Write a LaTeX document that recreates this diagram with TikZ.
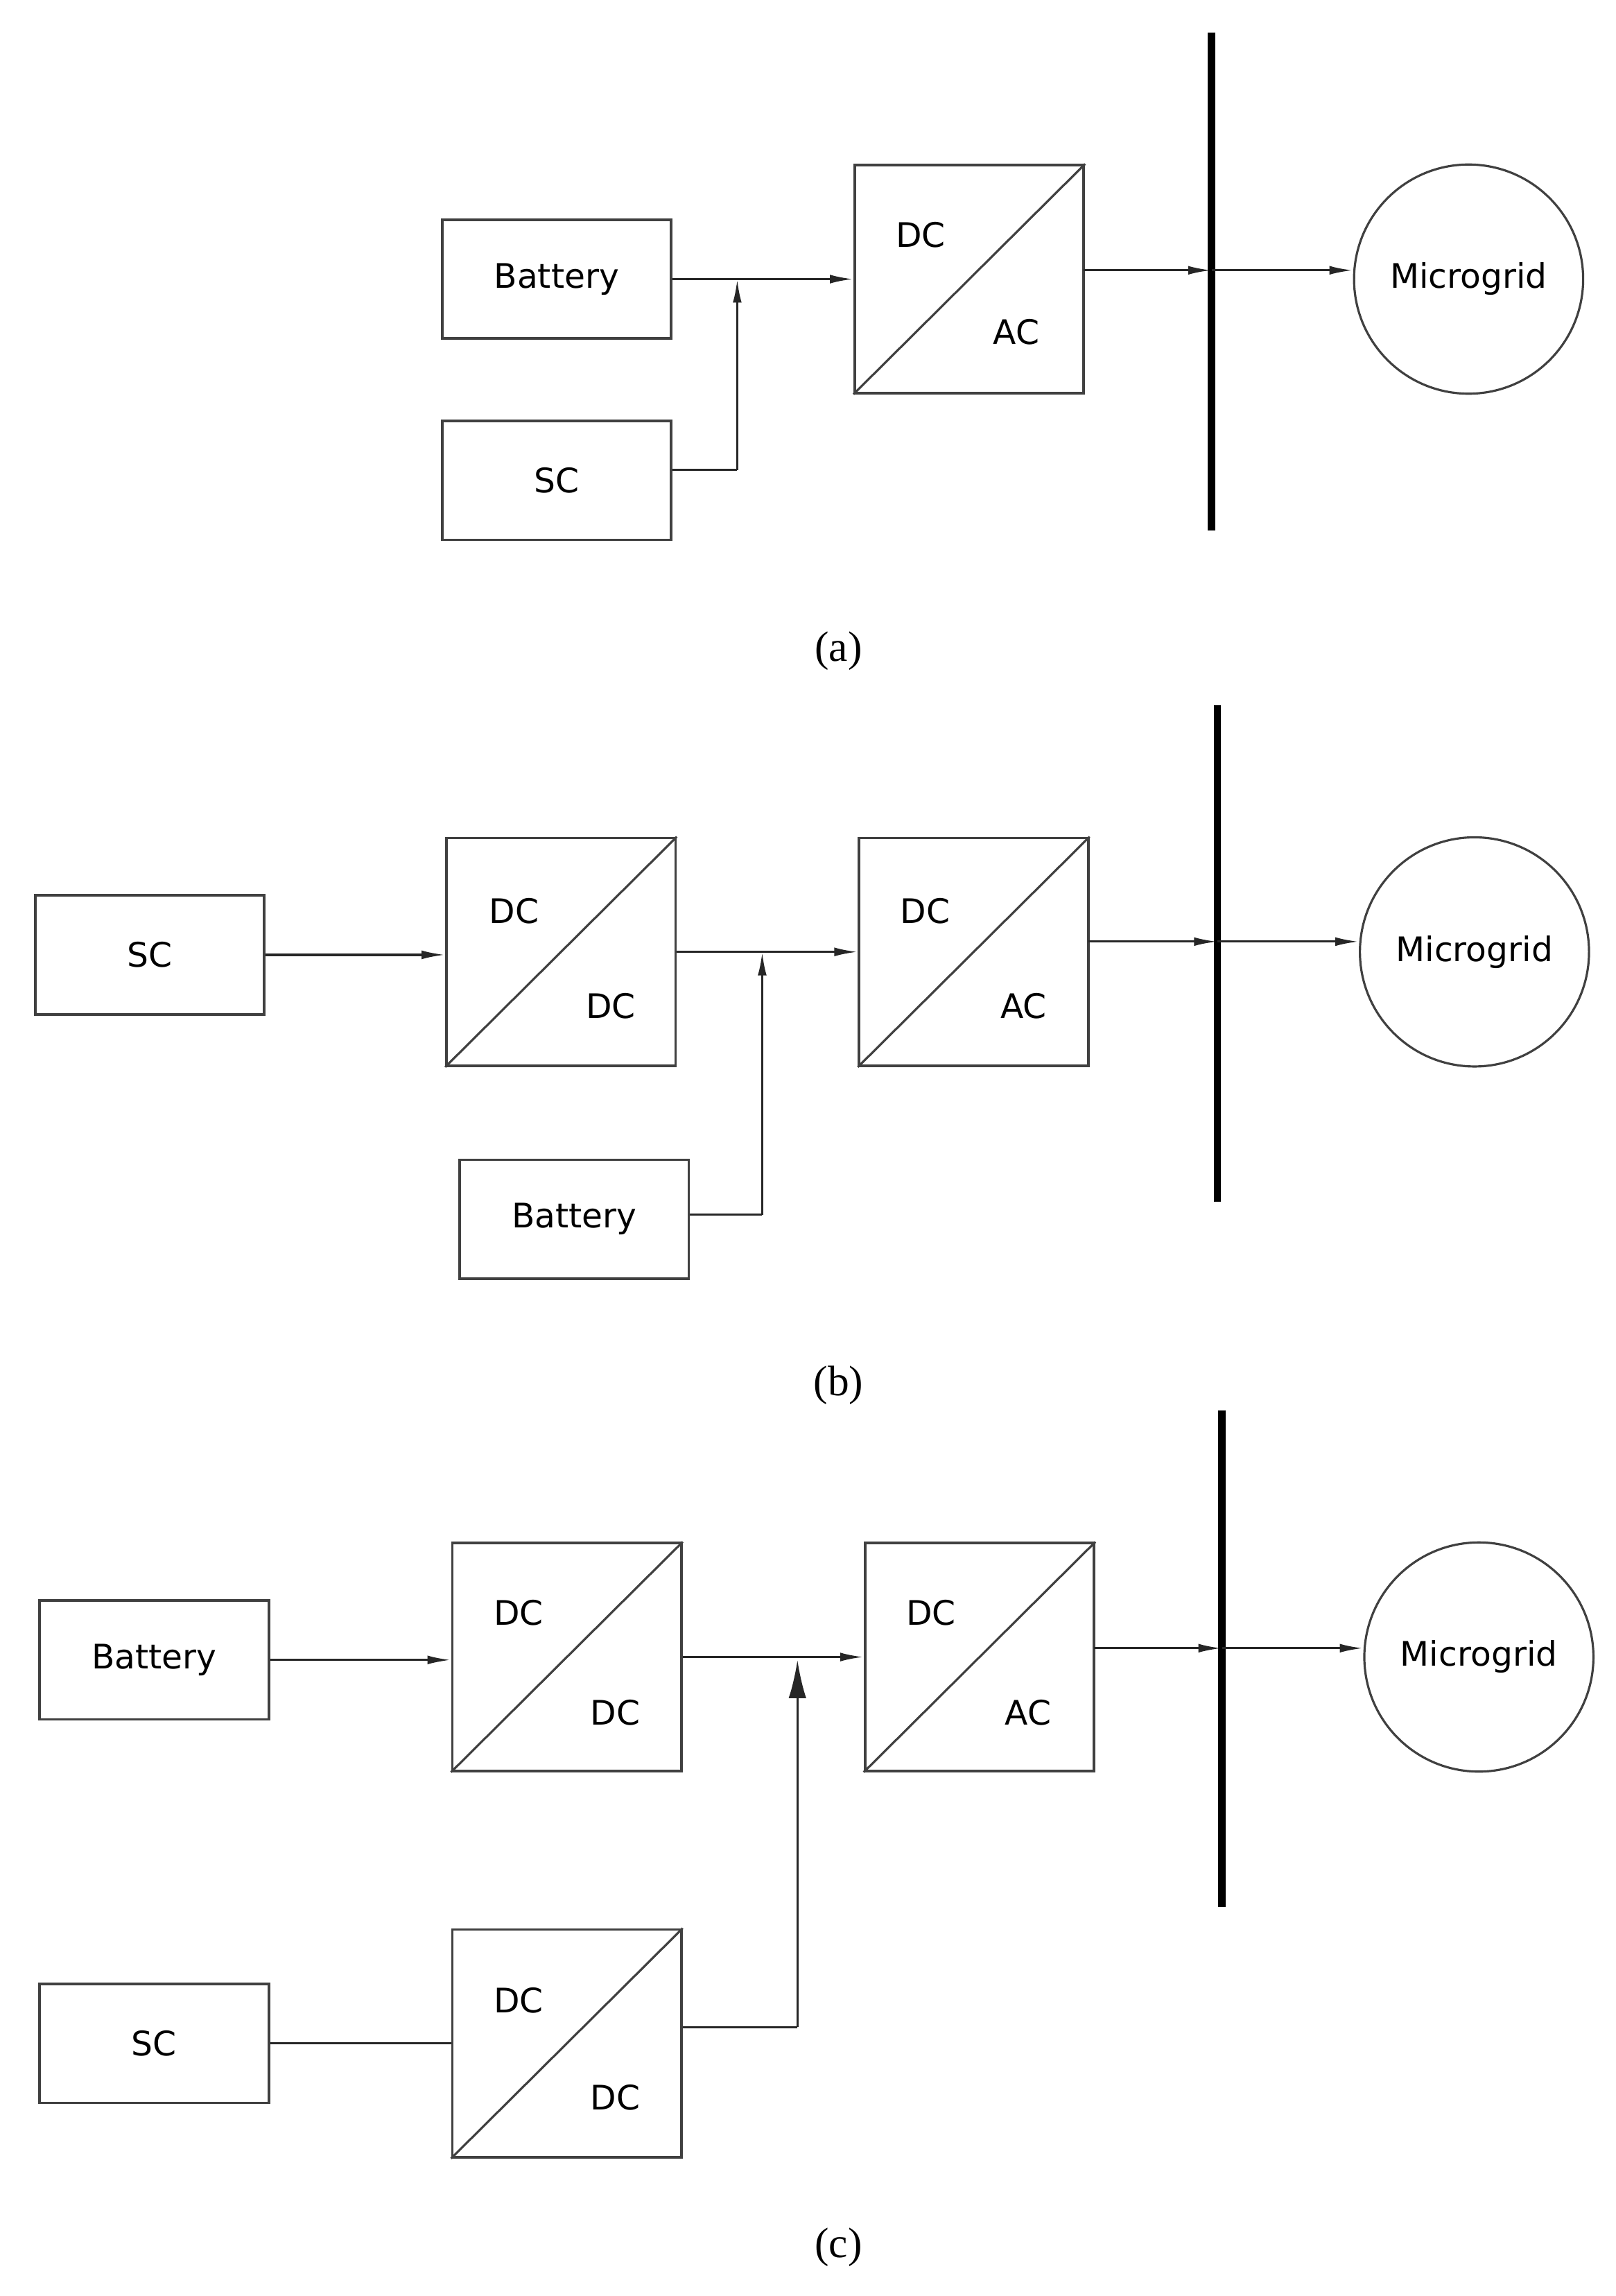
\documentclass[tikz,border=0pt]{standalone}
\usepackage{fontspec}
\setmainfont{DejaVu Sans}
\newfontfamily\capfont{Liberation Serif}
\usetikzlibrary{arrows.meta}
\begin{document}
\begin{tikzpicture}[x=1pt,y=-1pt,
  box/.style={draw=black!75,line width=1.8pt,minimum width=156pt,minimum height=81pt,inner sep=0pt,font=\fontsize{23}{27}\selectfont},
  conv/.style={draw=black!75,line width=1.8pt,minimum width=156pt,minimum height=155pt,inner sep=0pt},
  ct/.style={font=\fontsize{23}{27}\selectfont,inner sep=0pt},
  mg/.style={draw=black!75,line width=1.5pt,circle,minimum size=156pt,inner sep=0pt,font=\fontsize{23}{27}\selectfont},
  bus/.style={line width=5pt},
  ln/.style={line width=1.5pt,black!85},
  arr/.style={ln,-{Latex[length=16pt,width=6pt]}},
  captxt/.style={font=\capfont\fontsize{29}{33}\selectfont}]
\useasboundingbox (0,0) rectangle (1100,1563);
% (a)
\node[box] (bat1) at (379,190) {Battery};
\node[box] (sc1) at (379,327) {SC};
\node[conv] (ca1) at (660,190) {};
\draw[draw=black!75,line width=1.5pt] (ca1.south west) -- (ca1.north east);
\node[ct] (ca1t) at (627,160) {DC};
\node[ct] (ca1b) at (692,226) {AC};
\coordinate (bus1t) at (825,22); \coordinate (bus1b) at (825,361);
\draw[bus] (bus1t) -- (bus1b);
\node[mg] (mg1) at (1000,190) {Microgrid};
\coordinate (j1) at (502,190); \coordinate (s1) at (502,320);
\draw[arr] (bat1.east) -- (ca1.west);
\draw[ln] (sc1.east |- s1) -- (s1);
\draw[arr] (s1) -- (j1);
\coordinate (o1) at (738,184); \coordinate (b1) at (825,184);
\draw[arr] (o1) -- (b1);
\draw[arr] (b1) -- (mg1.west |- b1);
\node[captxt] (la) at (571,443) {(a)};
% (b)
\node[box] (sc2) at (102,650) {SC};
\node[conv] (cd2) at (382,648) {};
\draw[draw=black!75,line width=1.5pt] (cd2.south west) -- (cd2.north east);
\node[ct] (cd2t) at (350,620) {DC};
\node[ct] (cd2b) at (416,685) {DC};
\node[conv] (ca2) at (663,648) {};
\draw[draw=black!75,line width=1.5pt] (ca2.south west) -- (ca2.north east);
\node[ct] (ca2t) at (630,620) {DC};
\node[ct] (ca2b) at (697,685) {AC};
\node[box] (bat2) at (391,830) {Battery};
\coordinate (bus2t) at (829,480); \coordinate (bus2b) at (829,818);
\draw[bus] (bus2t) -- (bus2b);
\node[mg] (mg2) at (1004,648) {Microgrid};
\draw[arr] (sc2.east) -- (cd2.west |- sc2.east);
\draw[arr] (cd2.east) -- (ca2.west);
\coordinate (j2) at (519,648); \coordinate (s2) at (519,827);
\draw[ln] (bat2.east |- s2) -- (s2);
\draw[arr] (s2) -- (j2);
\coordinate (o2) at (741,641); \coordinate (b2) at (829,641);
\draw[arr] (o2) -- (b2);
\draw[arr] (b2) -- (mg2.west |- b2);
\node[captxt] (lb) at (571,943) {(b)};
% (c)
\node[box] (bat3) at (105,1130) {Battery};
\node[conv] (cd3) at (386,1128) {};
\draw[draw=black!75,line width=1.5pt] (cd3.south west) -- (cd3.north east);
\node[ct] (cd3t) at (353,1098) {DC};
\node[ct] (cd3b) at (419,1166) {DC};
\node[conv] (ca3) at (667,1128) {};
\draw[draw=black!75,line width=1.5pt] (ca3.south west) -- (ca3.north east);
\node[ct] (ca3t) at (634,1098) {DC};
\node[ct] (ca3b) at (700,1166) {AC};
\node[box] (sc3) at (105,1391) {SC};
\node[conv] (cd4) at (386,1391) {};
\draw[draw=black!75,line width=1.5pt] (cd4.south west) -- (cd4.north east);
\node[ct] (cd4t) at (353,1362) {DC};
\node[ct] (cd4b) at (419,1428) {DC};
\coordinate (bus3t) at (832,960); \coordinate (bus3b) at (832,1298);
\draw[bus] (bus3t) -- (bus3b);
\node[mg] (mg3) at (1007,1128) {Microgrid};
\draw[arr] (bat3.east) -- (cd3.west |- bat3.east);
\draw[arr] (cd3.east) -- (ca3.west);
\draw[ln] (sc3.east) -- (cd4.west |- sc3.east);
\coordinate (j3) at (543,1130); \coordinate (s3) at (543,1380);
\draw[ln] (cd4.east |- s3) -- (s3);
\draw[ln,-{Latex[length=26pt,width=12pt]}] (s3) -- (j3);
\coordinate (o3) at (745,1122); \coordinate (b3) at (832,1122);
\draw[arr] (o3) -- (b3);
\draw[arr] (b3) -- (mg3.west |- b3);
\node[captxt] (lc) at (571,1530) {(c)};
\end{tikzpicture}
\end{document}
